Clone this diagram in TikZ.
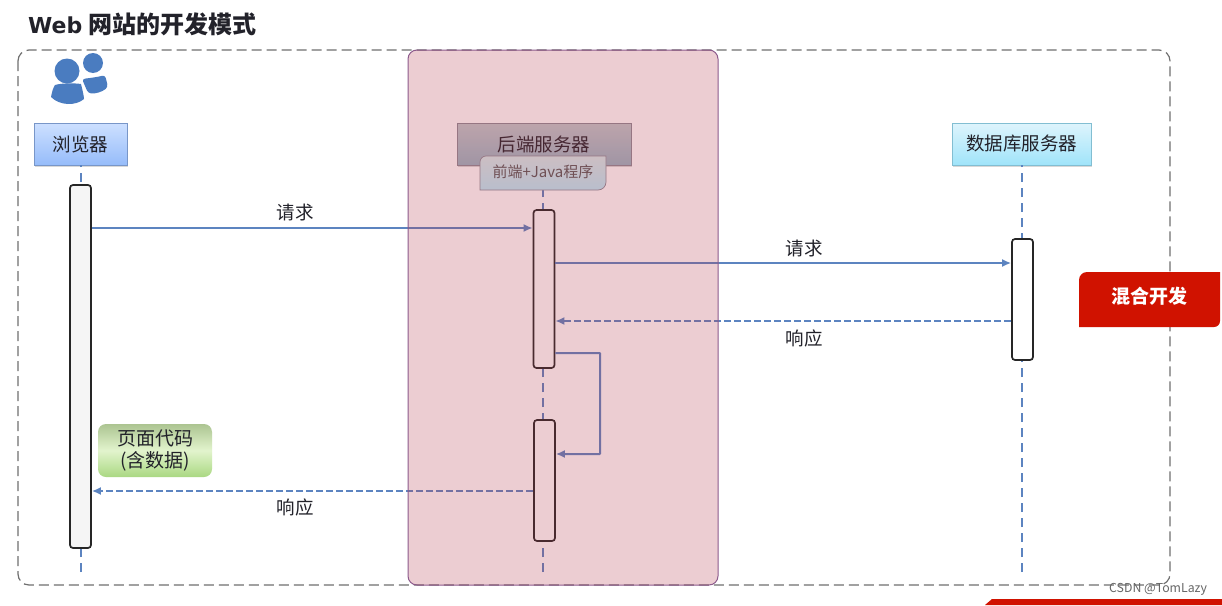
\documentclass[tikz,border=0pt]{standalone}
\usepackage{fontspec}
\setmainfont{Noto Sans CJK SC}
\newfontfamily\latinbold{DejaVu Sans}
\usetikzlibrary{arrows.meta,shadows,calc}
\definecolor{flow}{RGB}{92,132,192}
\definecolor{framegray}{RGB}{112,112,112}
\definecolor{inktext}{RGB}{34,34,42}
\definecolor{tagred}{RGB}{208,18,0}
\definecolor{iconblue}{RGB}{74,124,192}
\definecolor{veil}{RGB}{180,56,76}
\definecolor{brwtop}{RGB}{205,224,255}
\definecolor{brwbot}{RGB}{150,188,250}
\definecolor{brwedge}{RGB}{120,150,200}
\definecolor{srvtop}{RGB}{193,201,204}
\definecolor{srvbot}{RGB}{153,181,195}
\definecolor{srvedge}{RGB}{140,140,150}
\definecolor{dbtop}{RGB}{222,244,252}
\definecolor{dbbot}{RGB}{160,228,250}
\definecolor{dbedge}{RGB}{130,190,210}
\definecolor{fronttop}{RGB}{213,235,235}
\definecolor{frontbot}{RGB}{187,235,248}
\definecolor{notetop}{RGB}{172,196,145}
\definecolor{notemid}{RGB}{226,244,205}
\definecolor{notebot}{RGB}{170,216,130}
\definecolor{veiledge}{RGB}{140,90,140}
\tikzset{
  x=1pt,y=-1pt,
  body/.style={font=\fontsize{18.5}{23}\selectfont,text=inktext,inner sep=0pt},
  header/.style={body,minimum height=42pt,draw=#1,line width=.7pt,
    drop shadow={shadow xshift=1pt,shadow yshift=-1.5pt,opacity=.3}},
  lifeline/.style={flow,line width=2pt,dash pattern=on 9pt off 6pt},
  activation/.style={draw=black!85,line width=1.7pt,rounded corners=3pt,fill=#1,minimum width=21pt,inner sep=0pt},
  msg/.style={flow,line width=2pt,-{Latex[length=9pt,width=8pt]}},
  reply/.style={msg,dash pattern=on 7pt off 3pt},
}
\begin{document}
\begin{tikzpicture}
\useasboundingbox (0,0) rectangle (1222,605);
\fill[white] (0,0) rectangle (1222,605);
% title
\node[anchor=west,inner sep=0pt,text=inktext,font=\fontsize{24}{28}\selectfont\bfseries] (title) at (28,24) {{\latinbold\bfseries\fontsize{22}{28}\selectfont Web}\hspace{1pt} 网站的开发模式};
% outer frame
\draw[framegray,line width=1.2pt,dash pattern=on 10pt off 5pt,rounded corners=11pt] (18,50) rectangle (1170,585);
% icon
\fill[iconblue] (93,63) circle (10);
\fill[iconblue,rounded corners=3pt] (82,79) .. controls (90,78) and (98,77) .. (105,75) -- (108,87) .. controls (102,92) and (95,94) .. (88,93) -- cycle;
\fill[iconblue] (67,71) circle (12.5);
\fill[iconblue] (55,85) .. controls (62,83) and (74,83) .. (81,84) .. controls (83,92) and (84,97) .. (84,99)
  .. controls (76,106) and (60,106) .. (51,97) .. controls (52,92) and (53,88) .. (55,85) -- cycle;
% headers
\node[header=brwedge,minimum width=93pt,top color=brwtop,bottom color=brwbot] (brw) at (80.5,144) {浏览器};
\node[header=srvedge,minimum width=174pt,top color=srvtop,bottom color=srvbot] (srv) at (544,144) {后端服务器};
\node[header=dbedge,minimum width=139pt,top color=dbtop,bottom color=dbbot] (db) at (1021.5,144) {数据库服务器};
% lifelines (drawn upward so the dashes fall as in the source)
\coordinate (brwEnd) at (80.5,572);
\coordinate (srvEnd) at (543,572);
\coordinate (dbEnd) at (1022,572);
\coordinate (srvTop) at (543,190);
\draw[lifeline] (brwEnd) -- (brw.south -| brwEnd);
\draw[lifeline] (srvEnd) -- (srvTop);
\draw[lifeline] (dbEnd) -- (db.south -| dbEnd);
% front box
\path[draw=srvedge,line width=.7pt,top color=fronttop,bottom color=frontbot]
  (486,156) -- (606,156) -- (606,182) arc[start angle=0,end angle=90,radius=8] -- (480,190) -- (480,162) arc[start angle=180,end angle=270,radius=6] -- cycle;
\node[inner sep=0pt,font=\fontsize{15}{18}\selectfont,text=black!65] (front) at (543,172) {前端+Java程序};
% activations
\node[activation=black!4,minimum height=363pt] (a1) at (80.5,366.5) {};
\node[activation=white,minimum height=158pt] (s1) at (544,289) {};
\node[activation=white,minimum height=121pt] (s2) at (544.5,480.5) {};
\node[activation=white,minimum height=121pt,minimum width=21pt] (d1) at (1022.5,299.5) {};
% messages
\draw[msg] (a1.east |- 0,228) -- (s1.west |- 0,228);
\draw[msg] (s1.east |- 0,263) -- (d1.west |- 0,263);
\draw[reply] (d1.west |- 0,321) -- (s1.east |- 0,321);
\draw[msg,rounded corners=.5pt] (s1.east |- 0,353) -- (600,353) -- (600,454) -- (s2.east |- 0,454);
\draw[reply] (s2.west |- 0,491) -- (a1.east |- 0,491);
% labels
\node[body] (l1) at (295,212) {请求};
\node[body] (l2) at (804,248) {请求};
\node[body] (l3) at (804,338) {响应};
\node[body] (l4) at (295,507) {响应};
% green note
\node[body,align=center,rounded corners=8pt,minimum width=114pt,minimum height=53pt,
  top color=notetop,bottom color=notebot,middle color=notemid,
  font=\fontsize{19}{22}\selectfont] (note) at (155,450.5) {页面代码\\(含数据)};
% pink veil
\fill[veil,fill opacity=.25,rounded corners=9pt] (408,50) rectangle (718,585);
\draw[draw=veiledge,line width=1pt,rounded corners=9pt] (408,50) rectangle (718,585);
% red tag
\fill[tagred] (1087,272) -- (1220,272) -- (1220,321) arc[start angle=0,end angle=90,radius=6] -- (1079,327) -- (1079,280) arc[start angle=180,end angle=270,radius=8] -- cycle;
\node[inner sep=0pt,text=white,font=\fontsize{19}{22}\selectfont\bfseries] (tag) at (1149.5,296.5) {混合开发};
% bottom red strip
\fill[tagred] (985,605) -- (992,599) -- (1222,599) -- (1222,605) -- cycle;
% watermark
\node[anchor=west,inner sep=0pt,text=black!60,font=\fontsize{12.3}{15}\selectfont] (mark) at (1109,589) {CSDN @TomLazy};
\end{tikzpicture}
\end{document}
